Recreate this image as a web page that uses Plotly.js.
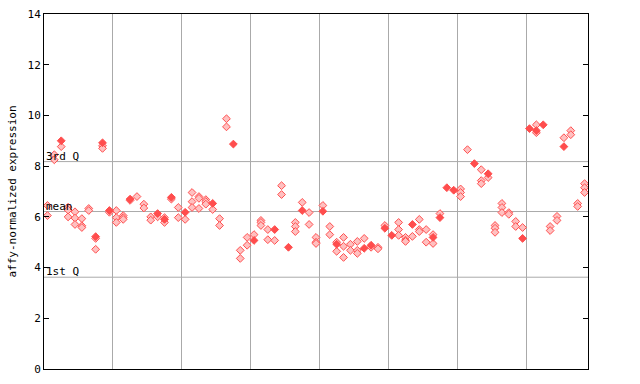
<!DOCTYPE html>
<html><head><meta charset="utf-8">
<script src="https://cdn.plot.ly/plotly-3.0.1.min.js"></script>
<style>body{margin:0;background:#fff}#c{width:640px;height:384px}</style>
</head><body><div id="c"></div>
<script>
// sample column index (0..78) and expression values
const hollowCol = [0,0,1,1,2,3,3,3,4,4,4,5,5,5,6,6,7,7,8,8,9,
  10,10,10,11,11,11,12,13,14,14,15,15,16,17,17,18,19,19,
  20,21,21,21,22,22,22,23,23,23,24,25,25,26,26,28,28,29,29,
  30,31,31,31,32,32,33,34,34,36,36,36,37,38,38,39,39,39,
  40,41,41,42,42,43,43,43,44,44,45,45,45,46,47,48,48,49,
  51,51,51,52,52,52,53,54,54,54,55,55,56,56,57,
  60,60,60,61,63,63,63,64,65,65,65,66,66,66,67,67,68,68,69,
  71,71,73,73,74,74,75,76,76,77,77,78,78,78];
const hollowVal = [6.45,6.05,8.45,8.25,8.77,6.38,6.27,6.0,6.2,5.95,5.7,5.93,5.65,5.58,6.33,6.25,5.15,4.72,8.8,8.7,6.18,
  6.25,5.97,5.78,6.05,5.97,5.9,6.65,6.8,6.5,6.35,6.0,5.87,6.0,5.97,5.78,6.7,6.37,5.97,
  5.9,6.96,6.6,6.37,6.8,6.73,6.33,6.68,6.6,6.5,6.29,5.93,5.66,9.87,9.55,4.68,4.36,5.19,4.88,
  5.3,5.86,5.78,5.66,5.5,5.1,5.07,7.23,6.88,5.78,5.62,5.42,6.57,6.17,5.7,5.19,5.0,4.95,
  6.45,5.62,5.3,5.0,4.64,5.19,4.84,4.4,4.92,4.68,5.03,4.68,4.56,5.15,4.8,4.8,4.74,5.66,
  5.78,5.5,5.27,5.19,5.08,5.03,5.23,5.9,5.5,5.42,5.5,5.0,5.3,4.95,6.13,
  7.1,6.96,6.8,8.65,7.86,7.43,7.31,7.55,5.66,5.55,5.39,6.53,6.37,6.17,6.17,6.1,5.82,5.62,5.58,
  9.63,9.32,5.62,5.46,6.02,5.86,9.12,9.4,9.24,6.53,6.41,7.31,7.15,6.96];
const solidCol = [2,7,8,9,12,16,17,18,20,24,27,30,33,35,37,40,42,46,47,49,50,53,56,57,58,59,62,64,69,70,71,72,75];
const solidVal = [9.0,5.22,8.92,6.25,6.7,6.13,5.9,6.77,6.18,6.53,8.87,5.07,5.5,4.8,6.25,6.22,4.92,4.76,4.88,5.55,5.27,5.7,5.19,5.97,7.15,7.05,8.1,7.7,5.15,9.48,9.4,9.63,8.77];
const refNames = ["3rd Q","mean","1st Q"];
const refVals = [8.18, 6.21, 3.62];
const yTicks = [0,2,4,6,8,10,12,14];

const pos = a => a.map(i => i + 0.5);
const mono = "DejaVu Sans Mono, monospace";

const traces = [
  {x: pos(hollowCol), y: hollowVal, type:"scatter", mode:"markers", hoverinfo:"none",
   marker:{symbol:"diamond", size:6, color:"#ffc0c0", line:{color:"#ff5050", width:1}}},
  {x: pos(solidCol), y: solidVal, type:"scatter", mode:"markers", hoverinfo:"none",
   marker:{symbol:"diamond", size:6, color:"#ff4d4d", line:{color:"#ff4d4d", width:1}}}
];

const shapes = refVals.map(v => ({type:"line", xref:"paper", x0:0, x1:1, yref:"y", y0:v, y1:v,
  line:{color:"#aaaaaa", width:1}, layer:"below"}));
const annotations = refNames.map((t,i) => ({text:t, xref:"paper", x:0, xanchor:"left",
  yref:"y", y:refVals[i], yanchor:"bottom", yshift:-3, showarrow:false,
  font:{family:mono, size:11, color:"#000"}}));

const layout = {
  width:640, height:384, showlegend:false,
  paper_bgcolor:"#fff", plot_bgcolor:"#fff",
  margin:{l:44, r:52, t:14, b:15, pad:0},
  xaxis:{range:[0,79], tick0:0, dtick:10, showgrid:true, gridcolor:"#aaaaaa", gridwidth:1,
    showticklabels:false, ticks:"", zeroline:false, showline:true, linecolor:"#000", linewidth:1, mirror:true},
  yaxis:{range:[0,14], tickvals:yTicks, ticktext:yTicks.map(String), showgrid:false, zeroline:false,
    ticks:"inside", ticklen:5, tickcolor:"#000", showline:true, linecolor:"#000", linewidth:1, mirror:"ticks",
    tickfont:{family:mono, size:11, color:"#000"},
    title:{text:"affy-normalized expression", font:{family:mono, size:11, color:"#000"}, standoff:8}},
  shapes, annotations
};
Plotly.newPlot("c", traces, layout, {staticPlot:true});
</script></body></html>
